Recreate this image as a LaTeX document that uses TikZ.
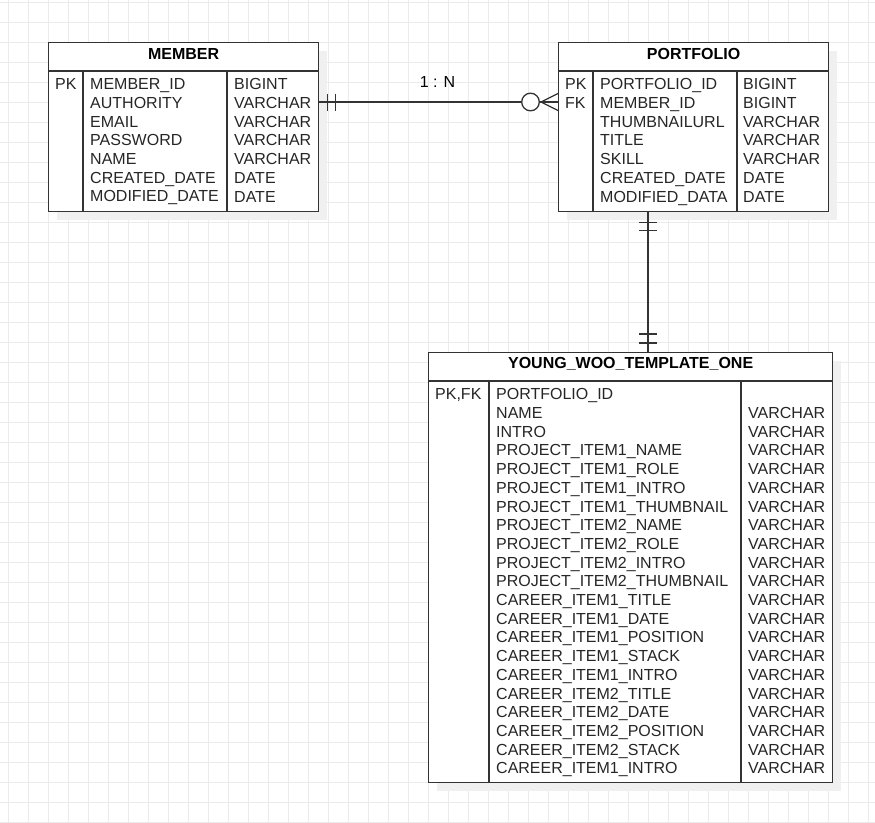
\documentclass[tikz,border=0pt]{standalone}
\usepackage{fontspec}
\setmainfont{Liberation Sans}
\usetikzlibrary{positioning, calc, shadows}

\tikzset{
  erbox/.style = {draw=black!80, line width=1.3pt, fill=white, anchor=north west,
    inner sep=0pt,
    drop shadow={shadow xshift=8pt, shadow yshift=-8pt, fill=black!6, opacity=1}},
  erhead/.style = {inner sep=0pt, text=black,
    font=\fontsize{16}{18.7}\selectfont\bfseries},
  ercol/.style = {align=left, anchor=north west, inner sep=0pt, text=black!85},
  erline/.style = {draw=black!80, line width=1.3pt},
  gridline/.style = {draw=black!8, line width=1pt}
}

\begin{document}
\begin{tikzpicture}[x=1pt, y=-1pt, font=\fontsize{16}{18.7}\selectfont]
    \useasboundingbox (0,0) rectangle (875,822);
    \fill[white] (0,0) rectangle (875,822);
    % background grid
    \foreach \x in {8,28,...,868} \draw[gridline] (\x,0) -- (\x,822);
    \foreach \y in {2,22,...,822} \draw[gridline] (0,\y) -- (875,\y);

    % MEMBER
    \node[erbox, minimum width=270pt, minimum height=169pt] (member) at (48,42) {};
    \node[erhead] (member-title) at ($(member.north)+(0,12)$) {MEMBER};
    \draw[erline] ($(member.north west)+(0,29)$) -- ($(member.north east)+(0,29)$);
    \draw[erline] ($(member.north west)+(35,29)$) -- ($(member.south west)+(35,0)$);
    \draw[erline] ($(member.north west)+(179,29)$) -- ($(member.south west)+(179,0)$);
    \node[ercol] (member-keys) at (55,78.5) {PK};
    \node[ercol] (member-fields) at (90,78.5) {MEMBER\_ID\\AUTHORITY\\EMAIL\\PASSWORD\\NAME\\CREATED\_DATE\\MODIFIED\_DATE};
    \node[ercol] (member-types) at (234,78.5) {BIGINT\\VARCHAR\\VARCHAR\\VARCHAR\\VARCHAR\\DATE\\DATE};

    % PORTFOLIO
    \node[erbox, minimum width=270pt, minimum height=169pt] (portfolio) at (558,42) {};
    \node[erhead] (portfolio-title) at ($(portfolio.north)+(0,12)$) {PORTFOLIO};
    \draw[erline] ($(portfolio.north west)+(0,29)$) -- ($(portfolio.north east)+(0,29)$);
    \draw[erline] ($(portfolio.north west)+(35,29)$) -- ($(portfolio.south west)+(35,0)$);
    \draw[erline] ($(portfolio.north west)+(179,29)$) -- ($(portfolio.south west)+(179,0)$);
    \node[ercol] (portfolio-keys) at (565,78.5) {PK\\FK};
    \node[ercol] (portfolio-fields) at (600,78.5) {PORTFOLIO\_ID\\MEMBER\_ID\\THUMBNAILURL\\TITLE\\SKILL\\CREATED\_DATE\\MODIFIED\_DATA};
    \node[ercol] (portfolio-types) at (743,78.5) {BIGINT\\BIGINT\\VARCHAR\\VARCHAR\\VARCHAR\\DATE\\DATE};

    % YOUNG_WOO_TEMPLATE_ONE
    \node[erbox, minimum width=404pt, minimum height=430pt] (template) at (428,352) {};
    \node[erhead] (template-title) at ($(template.north)+(0,12)$) {YOUNG\_WOO\_TEMPLATE\_ONE};
    \draw[erline] ($(template.north west)+(0,29)$) -- ($(template.north east)+(0,29)$);
    \draw[erline] ($(template.north west)+(61,29)$) -- ($(template.south west)+(61,0)$);
    \draw[erline] ($(template.north west)+(313,29)$) -- ($(template.south west)+(313,0)$);
    \node[ercol] (template-keys) at (435,388.5) {PK,FK};
    \node[ercol] (template-fields) at (496,388.5) {PORTFOLIO\_ID\\NAME\\INTRO\\
      PROJECT\_ITEM1\_NAME\\PROJECT\_ITEM1\_ROLE\\PROJECT\_ITEM1\_INTRO\\PROJECT\_ITEM1\_THUMBNAIL\\
      PROJECT\_ITEM2\_NAME\\PROJECT\_ITEM2\_ROLE\\PROJECT\_ITEM2\_INTRO\\PROJECT\_ITEM2\_THUMBNAIL\\
      CAREER\_ITEM1\_TITLE\\CAREER\_ITEM1\_DATE\\CAREER\_ITEM1\_POSITION\\CAREER\_ITEM1\_STACK\\CAREER\_ITEM1\_INTRO\\
      CAREER\_ITEM2\_TITLE\\CAREER\_ITEM2\_DATE\\CAREER\_ITEM2\_POSITION\\CAREER\_ITEM2\_STACK\\CAREER\_ITEM1\_INTRO};
    \node[ercol] (template-types) at (748,407.2) {VARCHAR\\VARCHAR\\VARCHAR\\VARCHAR\\VARCHAR\\
      VARCHAR\\VARCHAR\\VARCHAR\\VARCHAR\\VARCHAR\\VARCHAR\\VARCHAR\\VARCHAR\\VARCHAR\\VARCHAR\\
      VARCHAR\\VARCHAR\\VARCHAR\\VARCHAR\\VARCHAR};

    % MEMBER 1 : N PORTFOLIO
    \coordinate (link) at (0,102);
    \draw[erline] (member.east |- link) -- (portfolio.west |- link);
    \draw[erline] ($(member.east |- link)+(8,-8.5)$) -- ($(member.east |- link)+(8,8.5)$);
    \draw[erline] ($(member.east |- link)+(16,-8.5)$) -- ($(member.east |- link)+(16,8.5)$);
    \draw[erline, fill=white] ($(portfolio.west |- link)+(-27.5,0)$) circle (8.8pt);
    \draw[erline] ($(portfolio.west |- link)+(0,-8.5)$) -- ($(portfolio.west |- link)+(-17,0)$)
      -- ($(portfolio.west |- link)+(0,8.5)$);
    \draw[erline] ($(portfolio.west |- link)+(-18.7,0)$) -- (portfolio.west |- link);
    \node (ratio) at (437.5,82) {1 : N};

    % PORTFOLIO 1 : 1 YOUNG_WOO_TEMPLATE_ONE
    \coordinate (drop) at (648,0);
    \draw[erline] (portfolio.south -| drop) -- (template.north -| drop);
    \draw[erline] ($(portfolio.south -| drop)+(-9,10)$) -- ($(portfolio.south -| drop)+(9,10)$);
    \draw[erline] ($(portfolio.south -| drop)+(-9,18)$) -- ($(portfolio.south -| drop)+(9,18)$);
    \draw[erline] ($(template.north -| drop)+(-9,-18)$) -- ($(template.north -| drop)+(9,-18)$);
    \draw[erline] ($(template.north -| drop)+(-9,-9)$) -- ($(template.north -| drop)+(9,-9)$);
\end{tikzpicture}
\end{document}
